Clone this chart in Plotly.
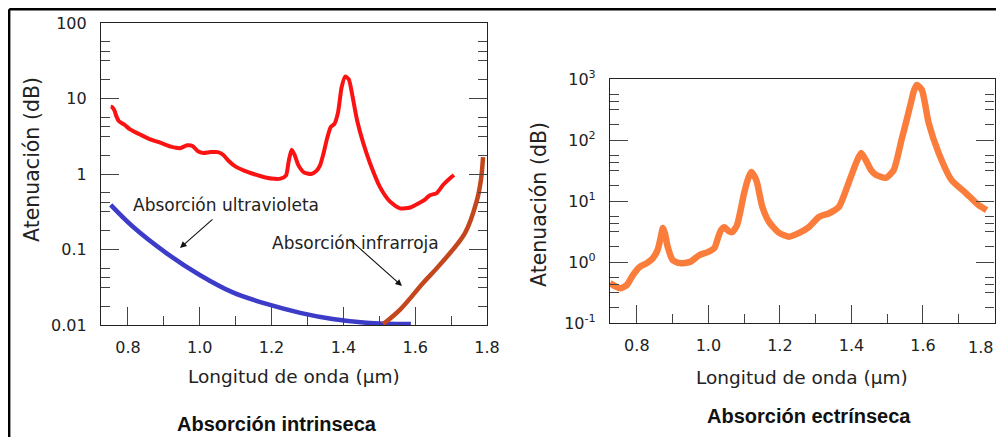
import plotly.graph_objects as go

# ---------------- data ----------------
# Left panel: measured intrinsic attenuation (red)
wl_meas = [0.752, 0.756, 0.762, 0.768, 0.775, 0.79, 0.806, 0.83, 0.86, 0.89, 0.92, 0.945,
           0.965, 0.98, 0.995, 1.01, 1.03, 1.05, 1.065, 1.08, 1.1, 1.125, 1.15, 1.175, 1.2,
           1.225, 1.24, 1.248, 1.256, 1.264, 1.275, 1.29, 1.31, 1.325, 1.335, 1.345, 1.355,
           1.365, 1.375, 1.385, 1.395, 1.405, 1.415, 1.425, 1.438, 1.455, 1.474, 1.502, 1.53,
           1.558, 1.586, 1.61, 1.625, 1.64, 1.66, 1.678, 1.697, 1.708]
att_meas = [7.8, 7.7, 7.0, 5.8, 5.0, 4.5, 3.9, 3.4, 2.9, 2.6, 2.3, 2.2,
            2.4, 2.35, 2.0, 1.9, 1.95, 1.95, 1.8, 1.5, 1.25, 1.1, 1.0, 0.92, 0.87,
            0.87, 0.95, 1.5, 2.1, 1.8, 1.3, 1.05, 1.0, 1.1, 1.3, 1.9, 3.0,
            4.2, 4.6, 6.5, 14, 19.5, 18, 11, 5.2, 2.6, 1.4, 0.67, 0.43,
            0.35, 0.36, 0.41, 0.45, 0.52, 0.56, 0.72, 0.88, 0.97]

# Ultraviolet absorption (blue)
wl_uv = [0.752, 0.814, 0.908, 1.0, 1.092, 1.186, 1.28, 1.37, 1.464, 1.52, 1.588]
att_uv = [0.39, 0.2, 0.089, 0.046, 0.027, 0.019, 0.0145, 0.012, 0.0107, 0.0104, 0.0103]

# Infrared absorption (brown)
wl_ir = [1.511, 1.558, 1.622, 1.669, 1.739, 1.772, 1.783, 1.789]
att_ir = [0.0103, 0.016, 0.036, 0.063, 0.166, 0.45, 0.83, 1.67]

# Right panel: extrinsic absorption (orange)
wl_ext = [0.725, 0.74, 0.753, 0.772, 0.789, 0.808, 0.828, 0.845, 0.858, 0.866, 0.873, 0.879,
          0.886, 0.9, 0.92, 0.948, 0.975, 0.998, 1.017, 1.026, 1.035, 1.045, 1.057, 1.067,
          1.08, 1.09, 1.1, 1.112, 1.12, 1.134, 1.151, 1.17, 1.198, 1.226, 1.254, 1.28, 1.31,
          1.338, 1.365, 1.388, 1.413, 1.427, 1.44, 1.455, 1.468, 1.496, 1.518, 1.54, 1.555,
          1.566, 1.575, 1.583, 1.597, 1.616, 1.644, 1.68, 1.72, 1.755, 1.778]
att_ext = [0.45, 0.40, 0.37, 0.42, 0.61, 0.83, 0.96, 1.16, 1.57, 2.4, 3.6, 2.9,
           1.8, 1.08, 0.96, 1.0, 1.3, 1.45, 1.7, 2.4, 3.3, 3.7, 3.2, 3.1,
           4.0, 7, 13.5, 24, 30, 22, 8, 4.5, 3.0, 2.6, 3.0, 3.7, 5.5,
           6.3, 8, 17, 42, 61, 47, 32, 27, 24, 32, 100, 220,
           400, 650, 800, 660, 190, 61, 22, 13.5, 8.6, 7.1]

x_ticks = [0.8, 1.0, 1.2, 1.4, 1.6, 1.8]
x_ticktext = ["0.8", "1.0", "1.2", "1.4", "1.6", "1.8"]
# last label of the right panel is drawn separately so it stays inside the window
x2_ticktext = ["0.8", "1.0", "1.2", "1.4", "1.6", ""]
x2_last_label = "1.8"
x_minor = [0.9, 1.1, 1.3, 1.5, 1.7]

left_yticks = [0.01, 0.1, 1, 10, 100]
left_yticktext = ["0.01", "0.1", "1", "10", "100"]
right_yticks = [0.1, 1, 10, 100, 1000]
right_yticktext = ["10<sup>-1</sup>", "10<sup>0</sup>", "10<sup>1</sup>",
                   "10<sup>2</sup>", "10<sup>3</sup>"]
minor_fracs = [0.25, 0.5, 0.625, 0.75]

x_title = "Longitud de onda (µm)"
y_title = "Atenuación (dB)"
left_caption = "Absorción intrinseca"
right_caption = "Absorción ectrínseca"
uv_label = "Absorción ultravioleta"
ir_label = "Absorción infrarroja"

# ---------------- figure ----------------
W, H = 1004, 437
OX, OY = 8, 8          # page offset of the plot div (browser body margin)
FONT = "DejaVu Sans"


def px_x(p):
    return (p - OX) / W


def px_y(p):
    return 1 - (p - OY) / H


def minor_vals(lo, hi):
    vals = []
    for d in range(lo, hi):
        for f in minor_fracs:
            vals.append(10 ** (d + f))
    return vals


fig = go.Figure()

fig.add_trace(go.Scatter(x=wl_meas, y=att_meas, mode="lines", xaxis="x", yaxis="y",
                         line=dict(color="#fb1212", width=4, shape="spline", smoothing=0.6),
                         showlegend=False))
fig.add_trace(go.Scatter(x=wl_uv, y=att_uv, mode="lines", xaxis="x", yaxis="y",
                         line=dict(color="#3c3cc8", width=4.5, shape="spline"),
                         showlegend=False))
fig.add_trace(go.Scatter(x=wl_ir, y=att_ir, mode="lines", xaxis="x", yaxis="y",
                         line=dict(color="#c4461c", width=4.5, shape="spline"),
                         showlegend=False))
fig.add_trace(go.Scatter(x=wl_ext, y=att_ext, mode="lines", xaxis="x2", yaxis="y2",
                         line=dict(color="#fb7d3c", width=6.5, shape="spline", smoothing=0.6),
                         showlegend=False))

tick_font = dict(family=FONT, size=16, color="#222")

xaxis_common = dict(
    range=[0.725, 1.8], tickmode="array", tickvals=x_ticks,
    ticks="inside", ticklen=18, tickwidth=1.2, tickcolor="#444",
    minor=dict(tickmode="array", tickvals=x_minor, ticks="inside", ticklen=9,
               tickcolor="#444", tickwidth=1.2, showgrid=False),
    showline=True, linecolor="#222", linewidth=1.2, mirror=True, automargin=False,
    showgrid=False, zeroline=False, tickfont=tick_font, ticklabelstandoff=8,
)

fig.update_layout(
    width=W, height=H, margin=dict(l=0, r=0, t=0, b=0, pad=0, autoexpand=False),
    paper_bgcolor="white", plot_bgcolor="white",
    xaxis=dict(domain=[px_x(101), px_x(487)], anchor="y", ticktext=x_ticktext, **xaxis_common),
    yaxis=dict(domain=[px_y(325), px_y(23)], anchor="x", type="log", range=[-2, 2],
               tickmode="array", tickvals=left_yticks, ticktext=left_yticktext,
               ticks="inside", ticklen=18, tickwidth=1.2, tickcolor="#444",
               minor=dict(tickmode="array", tickvals=minor_vals(-2, 2), ticks="inside",
                          ticklen=9, tickcolor="#444", tickwidth=1.2, showgrid=False),
               showline=True, linecolor="#222", linewidth=1.2, mirror="ticks", automargin=False,
               showgrid=False, zeroline=False, tickfont=tick_font, ticklabelstandoff=10),
    xaxis2=dict(domain=[px_x(610), px_x(994.5)], anchor="y2", ticktext=x2_ticktext, **xaxis_common),
    yaxis2=dict(domain=[px_y(323), px_y(79)], anchor="x2", type="log", range=[-1, 3],
                tickmode="array", tickvals=right_yticks, ticktext=right_yticktext,
                ticks="inside", ticklen=18, tickwidth=1.2, tickcolor="#444",
                minor=dict(tickmode="array", tickvals=minor_vals(-1, 3), ticks="inside",
                           ticklen=9, tickcolor="#444", tickwidth=1.2, showgrid=False),
                showline=True, linecolor="#222", linewidth=1.2, mirror="ticks", automargin=False,
                showgrid=False, zeroline=False, tickfont=tick_font, ticklabelstandoff=10),
)


def label(text, x, y, size, family=FONT, color="#222", angle=0, xanchor="center"):
    return dict(text=text, x=px_x(x), y=px_y(y), xref="paper", yref="paper",
                xanchor=xanchor, yanchor="middle", textangle=angle, showarrow=False,
                font=dict(family=family, size=size, color=color))


ann = [
    label(x_title, 294, 376, 18.5),
    label(x_title, 802, 377, 18.5),
    label(y_title, 32, 160, 20.5, angle=-90),
    label(y_title, 539, 205, 20.5, angle=-90),
    label("<b>" + left_caption + "</b>", 277, 424, 20, family="Liberation Sans", color="#111"),
    label("<b>" + right_caption + "</b>", 809, 416, 20, family="Liberation Sans", color="#111"),
    label(uv_label, 226, 205, 17),
    label(ir_label, 355, 243, 17),
    label(x2_last_label, 995, 347, 16, xanchor="right"),
    dict(text="", x=px_x(180), y=px_y(248), xref="paper", yref="paper",
         showarrow=True, ax=34, ay=-30, arrowhead=2, arrowsize=1.2, arrowwidth=1.1,
         arrowcolor="#111"),
    dict(text="", x=px_x(402), y=px_y(286), xref="paper", yref="paper",
         showarrow=True, ax=-54, ay=-48, arrowhead=2, arrowsize=1.2, arrowwidth=1.1,
         arrowcolor="#111"),
]
fig.update_layout(annotations=ann)

# outer frame lines (top and left)
fig.update_layout(shapes=[
    dict(type="line", xref="paper", yref="paper", x0=px_x(9.2), x1=1, y0=px_y(9.2), y1=px_y(9.2),
         line=dict(color="black", width=2.4)),
    dict(type="line", xref="paper", yref="paper", x0=px_x(9.2), x1=px_x(9.2), y0=px_y(9.2), y1=0,
         line=dict(color="black", width=2.4)),
])

fig.write_html("out.html")
